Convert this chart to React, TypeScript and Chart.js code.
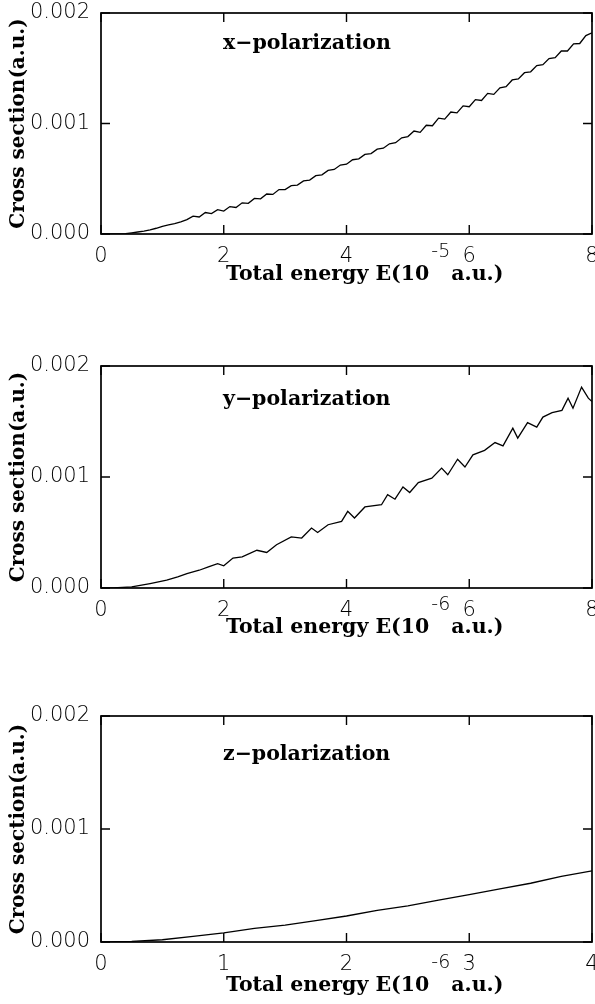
import React, { useEffect, useRef } from "react";
import { Chart, registerables } from "chart.js";

Chart.register(...registerables);

// ---------- data ----------
const xPolEnergy = [
  0, 0.1, 0.2, 0.3, 0.4, 0.5, 0.6, 0.7, 0.8, 0.9, 1.0, 1.1, 1.2, 1.3, 1.4, 1.5, 1.6, 1.7, 1.8, 1.9,
  2.0, 2.1, 2.2, 2.3, 2.4, 2.5, 2.6, 2.7, 2.8, 2.9, 3.0, 3.1, 3.2, 3.3, 3.4, 3.5, 3.6, 3.7, 3.8, 3.9,
  4.0, 4.1, 4.2, 4.3, 4.4, 4.5, 4.6, 4.7, 4.8, 4.9, 5.0, 5.1, 5.2, 5.3, 5.4, 5.5, 5.6, 5.7, 5.8, 5.9,
  6.0, 6.1, 6.2, 6.3, 6.4, 6.5, 6.6, 6.7, 6.8, 6.9, 7.0, 7.1, 7.2, 7.3, 7.4, 7.5, 7.6, 7.7, 7.8, 7.9, 8.0,
];
const xPolSigma = [
  0, 0, 0, 0, 0.000003, 0.00001, 0.000018, 0.000026, 0.000038, 0.000052,
  0.00007, 0.000082, 0.000094, 0.00011, 0.00013, 0.000162, 0.000154, 0.000194, 0.000184, 0.00022,
  0.000208, 0.000248, 0.00024, 0.000282, 0.000278, 0.000322, 0.000318, 0.000362, 0.000358, 0.000402,
  0.000402, 0.000438, 0.000442, 0.00048, 0.000488, 0.000528, 0.000536, 0.000576, 0.000584, 0.000624,
  0.000632, 0.000672, 0.00068, 0.00072, 0.000728, 0.000768, 0.000776, 0.000816, 0.000826, 0.00087,
  0.000882, 0.000932, 0.00092, 0.000984, 0.00098, 0.001048, 0.00104, 0.001104, 0.001096, 0.00116,
  0.001152, 0.001216, 0.001208, 0.001272, 0.001264, 0.001322, 0.001334, 0.001394, 0.001404, 0.00146,
  0.001468, 0.001524, 0.001532, 0.001588, 0.001596, 0.001656, 0.001656, 0.00172, 0.001724, 0.001796, 0.00182,
];

const yPolEnergy = [
  0, 0.2, 0.5, 0.8, 1.07, 1.25, 1.4, 1.6, 1.75, 1.9, 2.0, 2.15, 2.3, 2.54, 2.7, 2.86, 3.1, 3.27, 3.43,
  3.53, 3.7, 3.92, 4.02, 4.13, 4.3, 4.57, 4.67, 4.79, 4.92, 5.03, 5.17, 5.39, 5.55, 5.65, 5.81, 5.93,
  6.06, 6.25, 6.42, 6.55, 6.71, 6.79, 6.95, 7.1, 7.2, 7.35, 7.51, 7.61, 7.69, 7.83, 7.94, 8.0,
];
const yPolSigma = [
  0, 0, 0.00001, 0.00004, 0.00007, 0.0001, 0.00013, 0.00016, 0.00019, 0.00022, 0.0002, 0.00027,
  0.00028, 0.00034, 0.00032, 0.00039, 0.00046, 0.00045, 0.00054, 0.0005, 0.00057, 0.0006, 0.00069,
  0.00063, 0.00073, 0.00075, 0.00084, 0.0008, 0.00091, 0.00086, 0.00095, 0.00099, 0.00108, 0.00102,
  0.00116, 0.00109, 0.0012, 0.00124, 0.00131, 0.00128, 0.00144, 0.00135, 0.00149, 0.00145, 0.00154,
  0.00158, 0.0016, 0.00171, 0.00162, 0.00181, 0.00171, 0.00168,
];

const zPolEnergy = [0, 0.25, 0.5, 0.75, 1, 1.25, 1.5, 1.75, 2, 2.25, 2.5, 2.75, 3, 3.25, 3.5, 3.75, 4];
const zPolSigma = [
  0, 0.000005, 0.00002, 0.00005, 0.00008, 0.00012, 0.00015, 0.00019, 0.00023, 0.00028, 0.00032,
  0.00037, 0.00042, 0.00047, 0.00052, 0.00058, 0.00063,
];

const xTicksWide = [0, 2, 4, 6, 8];
const xTicksNarrow = [0, 1, 2, 3, 4];
const yTickValues = [0, 0.001, 0.002];
const yTickLabels = ["0.000", "0.001", "0.002"];
const yAxisTitle = "Cross section(a.u.)";
const panelLabels = ["x\u2212polarization", "y\u2212polarization", "z\u2212polarization"];
const xTitleMain = "Total energy E(10";
const xTitleExponents = ["-5", "-6", "-6"];
const xTitleUnit = "a.u.)";

// ---------- layout ----------
const CANVAS_W = 620;
const AREA_LEFT = 101;
const AREA_RIGHT = 592;
const TICK_FONT = "DejaVu Sans";
const TEXT_FONT = "DejaVu Serif";
const TEXT_SIZE = 20.5;

type PanelCfg = {
  energy: number[];
  sigma: number[];
  xMax: number;
  xTicks: number[];
  label: string;
  exponent: string;
  areaTop: number;
  areaBottom: number;
  labelBaseline: number;
  titleBaseline: number;
};

const panels: PanelCfg[] = [
  { energy: xPolEnergy, sigma: xPolSigma, xMax: 8, xTicks: xTicksWide, label: panelLabels[0], exponent: xTitleExponents[0], areaTop: 13, areaBottom: 234, labelBaseline: 36, titleBaseline: 46 },
  { energy: yPolEnergy, sigma: yPolSigma, xMax: 8, xTicks: xTicksWide, label: panelLabels[1], exponent: xTitleExponents[1], areaTop: 366, areaBottom: 588, labelBaseline: 39, titleBaseline: 45 },
  { energy: zPolEnergy, sigma: zPolSigma, xMax: 4, xTicks: xTicksNarrow, label: panelLabels[2], exponent: xTitleExponents[2], areaTop: 716, areaBottom: 942, labelBaseline: 44, titleBaseline: 49 },
];

const TOP_MARGIN = 30;
const X_AXIS_H = 70;

function Panel({ cfg }: { cfg: PanelCfg }) {
  const ref = useRef<HTMLCanvasElement | null>(null);
  const canvasTop = cfg.areaTop - TOP_MARGIN;
  const canvasH = cfg.areaBottom - cfg.areaTop + TOP_MARGIN + X_AXIS_H;

  useEffect(() => {
    if (!ref.current) return;
    const framePlugin = {
      id: "frameAndText",
      afterDraw(chart: any) {
        const ctx = chart.ctx as CanvasRenderingContext2D;
        const { left, right, top, bottom } = chart.chartArea;
        const xs = chart.scales.x;
        const ys = chart.scales.y;
        ctx.save();
        ctx.strokeStyle = "#000";
        ctx.lineWidth = 1.7;
        ctx.strokeRect(left, top, right - left, bottom - top);
        // inward ticks
        ctx.lineWidth = 1.4;
        const tl = 9;
        ctx.beginPath();
        cfg.xTicks.forEach((v) => {
          const px = xs.getPixelForValue(v);
          ctx.moveTo(px, bottom);
          ctx.lineTo(px, bottom - tl);
          ctx.moveTo(px, top);
          ctx.lineTo(px, top + tl);
        });
        yTickValues.forEach((v) => {
          const py = ys.getPixelForValue(v);
          ctx.moveTo(left, py);
          ctx.lineTo(left + tl, py);
          ctx.moveTo(right, py);
          ctx.lineTo(right - tl, py);
        });
        ctx.stroke();
        // panel label
        ctx.fillStyle = "#000";
        ctx.textAlign = "left";
        ctx.textBaseline = "alphabetic";
        ctx.font = `bold ${TEXT_SIZE}px "${TEXT_FONT}"`;
        ctx.fillText(cfg.label, left + 122, top + cfg.labelBaseline);
        // x axis title with superscript
        const x0 = left + 125;
        const by = bottom + cfg.titleBaseline;
        ctx.font = `bold ${TEXT_SIZE}px "${TEXT_FONT}"`;
        ctx.fillText(xTitleMain, x0, by);
        const w1 = ctx.measureText(xTitleMain).width;
        ctx.font = `200 19px "${TICK_FONT}"`;
        const ex = x0 + w1 + 2;
        ctx.fillText(cfg.exponent, ex, by - 23);
        const w2 = ctx.measureText(cfg.exponent).width;
        ctx.font = `bold ${TEXT_SIZE}px "${TEXT_FONT}"`;
        ctx.fillText(xTitleUnit, ex + w2 + 1, by);
        ctx.restore();
      },
    };

    const chart = new Chart(ref.current, {
      type: "line",
      data: {
        datasets: [
          {
            data: cfg.energy.map((e, i) => ({ x: e, y: cfg.sigma[i] })),
            borderColor: "#000",
            borderWidth: 1.3,
            pointRadius: 0,
            tension: 0,
            fill: false,
          },
        ],
      },
      options: {
        animation: false,
        responsive: false,
        devicePixelRatio: 1,
        layout: { padding: { left: 0, right: CANVAS_W - AREA_RIGHT, top: TOP_MARGIN, bottom: 0 } },
        plugins: { legend: { display: false }, tooltip: { enabled: false } },
        scales: {
          x: {
            type: "linear",
            min: 0,
            max: cfg.xMax,
            grid: { display: false, drawTicks: false },
            border: { display: false },
            afterBuildTicks: (s: any) => {
              s.ticks = cfg.xTicks.map((v) => ({ value: v }));
            },
            afterFit: (s: any) => {
              s.height = X_AXIS_H;
            },
            ticks: {
              color: "#000",
              padding: 10,
              maxRotation: 0,
              autoSkip: false,
              font: { family: TICK_FONT, size: 21, weight: "200" as any },
              callback: (v: any) => String(v),
            },
          },
          y: {
            type: "linear",
            min: 0,
            max: 0.002,
            grid: { display: false, drawTicks: false },
            border: { display: false },
            afterBuildTicks: (s: any) => {
              s.ticks = yTickValues.map((v) => ({ value: v }));
            },
            afterFit: (s: any) => {
              s.width = AREA_LEFT;
            },
            ticks: {
              color: "#000",
              padding: 11,
              autoSkip: false,
              font: { family: TICK_FONT, size: 21, weight: "200" as any },
              callback: (v: any) => {
                const idx = yTickValues.findIndex((t) => Math.abs(t - v) < 1e-9);
                return idx >= 0 ? yTickLabels[idx] : "";
              },
            },
            title: {
              display: true,
              text: yAxisTitle,
              color: "#000",
              font: { family: TEXT_FONT, size: 20, weight: "bold" },
              padding: { top: 7, bottom: 0 },
            },
          },
        },
      },
      plugins: [framePlugin],
    });
    return () => chart.destroy();
  }, []);

  return (
    <canvas
      ref={ref}
      width={CANVAS_W}
      height={canvasH}
      style={{ position: "absolute", left: 0, top: canvasTop, width: CANVAS_W, height: canvasH }}
    />
  );
}

export default function App() {
  return (
    <div
      style={{
        position: "absolute",
        left: 0,
        top: 0,
        width: 595,
        height: 1004,
        overflow: "hidden",
        background: "#fff",
      }}
    >
      {panels.map((p, i) => (
        <Panel key={i} cfg={p} />
      ))}
    </div>
  );
}
